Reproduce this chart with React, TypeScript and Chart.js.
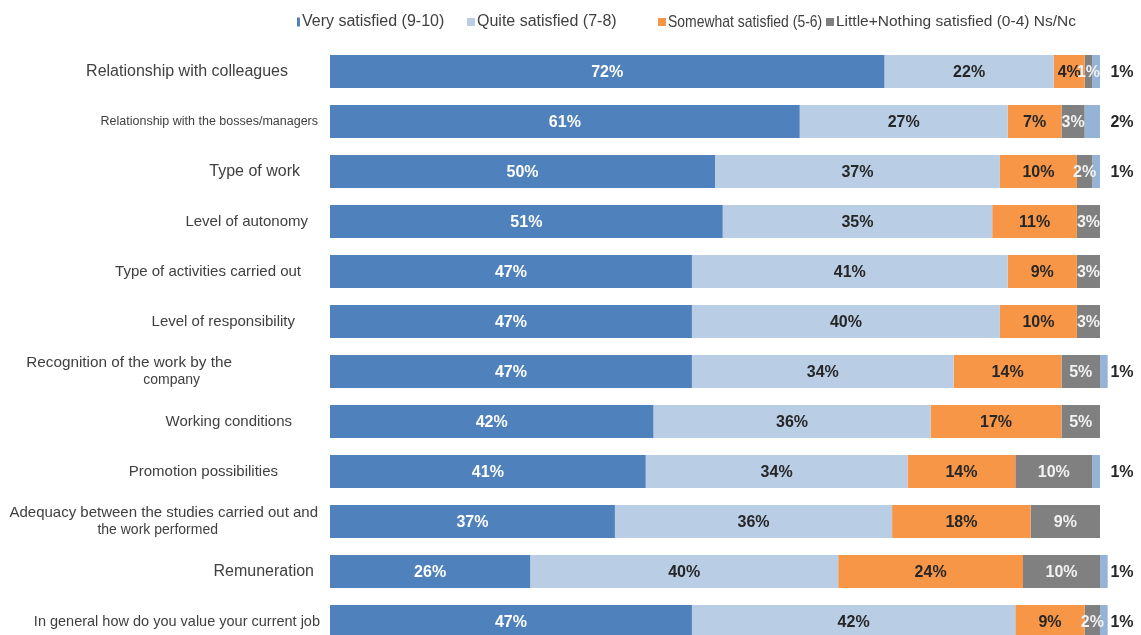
import React, { useEffect, useRef } from "react";
import { Chart, registerables } from "chart.js";

Chart.register(...registerables);

// ---------- data ----------
const categories: string[][] = [
  ["Relationship with colleagues"],
  ["Relationship with the bosses/managers"],
  ["Type of work"],
  ["Level of autonomy"],
  ["Type of activities carried out"],
  ["Level of responsibility"],
  ["Recognition of the work by the", "company"],
  ["Working conditions"],
  ["Promotion possibilities"],
  ["Adequacy between the studies carried out and", "the work performed"],
  ["Remuneration"],
  ["In general how do you value your current job"],
];

const verySatisfied = [72, 61, 50, 51, 47, 47, 47, 42, 41, 37, 26, 47];
const quiteSatisfied = [22, 27, 37, 35, 41, 40, 34, 36, 34, 36, 40, 42];
const somewhatSatisfied = [4, 7, 10, 11, 9, 10, 14, 17, 14, 18, 24, 9];
const littleNothing = [1, 3, 2, 3, 3, 3, 5, 5, 10, 9, 10, 2];
const nsNc = [1, 2, 1, 0, 0, 0, 1, 0, 1, 0, 1, 1];

const seriesNames = [
  "Very satisfied (9-10)",
  "Quite satisfied (7-8)",
  "Somewhat satisfied (5-6)",
  "Little+Nothing satisfied (0-4)",
  "Ns/Nc",
];

// ---------- styles ----------
const seriesColors = ["#4F81BD", "#B9CDE5", "#F79646", "#808080", "#95B3D7"];
const valueLabelColors = ["#FFFFFF", "#262626", "#262626", "#F2F2F2", "#262626"];
const FONT = "'Liberation Sans', Arial, sans-serif";

// category label font sizes / right edges per line
const labelSizes: number[][] = [
  [16], [12.5], [16], [15], [15], [15], [15.3, 14], [15], [15], [15, 14], [16], [14.5],
];
const labelRights: number[][] = [
  [288], [318], [300], [308], [301], [295], [232, 200], [292], [278], [318, 218], [314], [320],
];

// legend item layout
const legendLayout = [
  { x: 297, marker: [3, 9], font: `16px ${FONT}`, sx: 1 },
  { x: 467, marker: [8, 8], font: `16px ${FONT}`, sx: 1 },
  { x: 658, marker: [8, 8], font: `17px ${FONT}`, sx: 0.82 },
  { x: 826, marker: [8, 8], font: `15.5px ${FONT}`, sx: 1 },
  { x: -1, marker: null, font: `15.5px ${FONT}`, sx: 1 },
];

const legendPlugin = {
  id: "customLegend",
  afterDraw(chart: any) {
    const ctx = chart.ctx;
    const y = 22;
    ctx.save();
    ctx.textBaseline = "middle";
    ctx.textAlign = "left";
    let prevEnd = 0;
    legendLayout.forEach((it, i) => {
      ctx.font = it.font;
      let x = it.x;
      if (x < 0) x = prevEnd + ctx.measureText(" ").width;
      if (it.marker) {
        const [w, h] = it.marker;
        ctx.fillStyle = seriesColors[i];
        ctx.fillRect(x, y - h / 2, w, h);
        x += w + 2;
      }
      ctx.fillStyle = "#404040";
      ctx.save();
      ctx.translate(x, y);
      ctx.scale(it.sx, 1);
      ctx.fillText(seriesNames[i], 0, 0);
      ctx.restore();
      prevEnd = x + ctx.measureText(seriesNames[i]).width * it.sx;
    });
    ctx.restore();
  },
};

const categoryLabelPlugin = {
  id: "categoryLabels",
  afterDraw(chart: any) {
    const ctx = chart.ctx;
    const yScale = chart.scales.y;
    ctx.save();
    ctx.textBaseline = "middle";
    ctx.textAlign = "right";
    ctx.fillStyle = "#404040";
    categories.forEach((lines, i) => {
      const yc = yScale.getPixelForValue(i);
      const lh = 18;
      const y0 = yc - ((lines.length - 1) * lh) / 2;
      lines.forEach((line, j) => {
        ctx.font = `${labelSizes[i][j]}px ${FONT}`;
        ctx.fillText(line, labelRights[i][j], y0 + j * lh);
      });
    });
    ctx.restore();
  },
};

const valueLabelPlugin = {
  id: "valueLabels",
  afterDatasetsDraw(chart: any) {
    const ctx = chart.ctx;
    ctx.save();
    ctx.font = `bold 16px ${FONT}`;
    ctx.textBaseline = "middle";
    ctx.textAlign = "center";
    chart.data.datasets.forEach((ds: any, d: number) => {
      const meta = chart.getDatasetMeta(d);
      meta.data.forEach((bar: any, i: number) => {
        const v = ds.data[i];
        if (!v) return;
        const { x, y, base } = bar.getProps(["x", "y", "base"], true);
        ctx.fillStyle = valueLabelColors[d];
        if (d === 4) {
          ctx.fillText(`${v}%`, chart.chartArea.right + 22, y + 1);
        } else {
          ctx.fillText(`${v}%`, (x + base) / 2, y + 1);
        }
      });
    });
    ctx.restore();
  },
};

export default function App() {
  const ref = useRef<HTMLCanvasElement | null>(null);

  useEffect(() => {
    if (!ref.current) return;
    const series = [verySatisfied, quiteSatisfied, somewhatSatisfied, littleNothing, nsNc];
    const chart = new Chart(ref.current, {
      type: "bar",
      data: {
        labels: categories,
        datasets: series.map((values, k) => ({
          label: seriesNames[k],
          data: values,
          backgroundColor: seriesColors[k],
          borderWidth: 0,
          barPercentage: 0.66,
          categoryPercentage: 1,
          clip: false as any,
        })),
      },
      options: {
        indexAxis: "y",
        animation: false,
        responsive: false,
        maintainAspectRatio: false,
        layout: { padding: { left: 330, right: 41, top: 46.5, bottom: 13.5 } },
        scales: {
          x: { stacked: true, min: 0, max: 100, display: false },
          y: { stacked: true, display: false },
        },
        plugins: {
          legend: { display: false },
          tooltip: { enabled: false },
        },
      },
      plugins: [legendPlugin, categoryLabelPlugin, valueLabelPlugin],
    });
    return () => chart.destroy();
  }, []);

  return (
    <div style={{ position: "fixed", left: 0, top: 0, width: 1141, height: 660, background: "#fff" }}>
      <canvas ref={ref} width={1141} height={660} style={{ display: "block" }} />
    </div>
  );
}
